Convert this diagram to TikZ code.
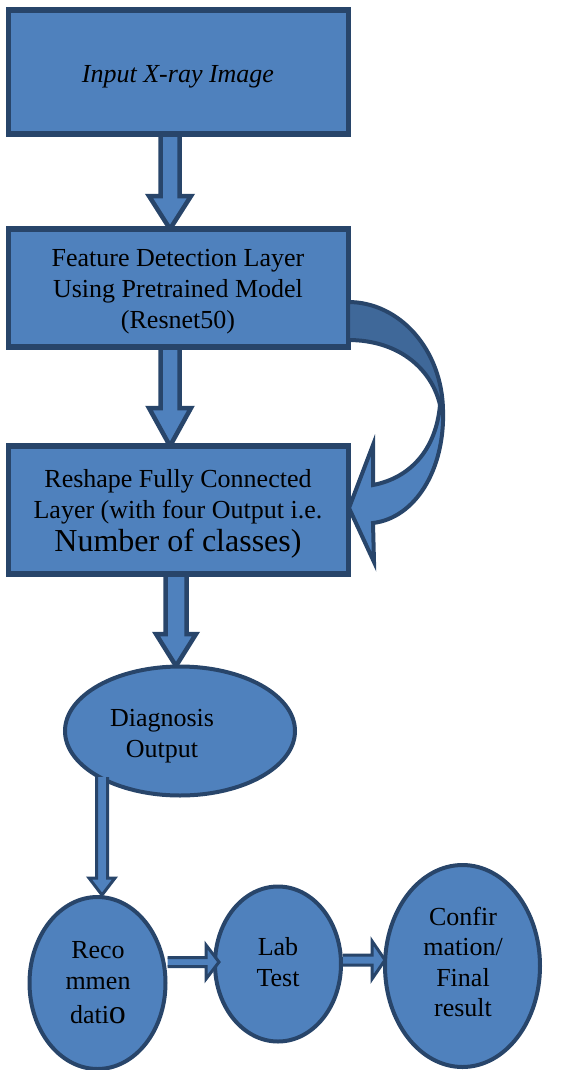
\documentclass[tikz,border=0pt]{standalone}
\usepackage{fontspec}
\setmainfont{Liberation Serif}
\usetikzlibrary{shapes.geometric,calc}
\definecolor{fillb}{HTML}{4F81BD}
\definecolor{edgeb}{HTML}{28456A}
\definecolor{backb}{HTML}{3F6899}
\newcommand{\downblk}[6]{%
  \path[#1] let \p1=(#2), \p2=(#3) in
    (\x1-#4,\y1) -- (\x1-#4,\y2+#6) -- (\x1-#5,\y2+#6) -- (\x1,\y2) --
    (\x1+#5,\y2+#6) -- (\x1+#4,\y2+#6) -- (\x1+#4,\y1);}
\newcommand{\rightblk}[6]{%
  \path[#1] let \p1=(#2), \p2=(#3) in
    (\x1,\y1+#4) -- (\x2-#6,\y1+#4) -- (\x2-#6,\y1+#5) -- (\x2,\y1) --
    (\x2-#6,\y1-#5) -- (\x2-#6,\y1-#4) -- (\x1,\y1-#4);}
\begin{document}
\begin{tikzpicture}[x=1pt,y=-1pt,
  box/.style={draw=edgeb, line width=5.5pt, fill=fillb, minimum width=340pt,
    inner sep=0pt},
  boxtxt/.style={align=center, inner sep=0pt, font=\fontsize{26}{31}\selectfont},
  oval/.style={ellipse, draw=edgeb, line width=4pt, fill=fillb, inner sep=0pt},
  txt/.style={align=center, inner sep=0pt, font=\fontsize{26}{30.5}\selectfont},
  barrow/.style={draw=edgeb, line width=4.5pt, fill=fillb, line join=miter},
  sarrow/.style={draw=edgeb, line width=3pt, fill=fillb, line join=miter},
  curvefront/.style={draw=edgeb, line width=4pt, fill=fillb, line join=miter},
  curveback/.style={draw=edgeb, line width=4pt, fill=backb, line join=round}]
\useasboundingbox (0,0) rectangle (570,1070);

% block arrows between boxes (drawn first so that box borders lie on top)
\coordinate (b1s) at (170,134);
\coordinate (b2t) at (170,229);
\coordinate (b2s) at (170,347);
\coordinate (b3t) at (170,446);
\coordinate (b3s) at (176,574);
\coordinate (dgt) at (176,666);
\downblk{barrow}{b1s}{b2t}{9.5pt}{21pt}{33pt}
\downblk{barrow}{b2s}{b3t}{9.5pt}{21pt}{38pt}
\downblk{barrow}{b3s}{dgt}{10.5pt}{20pt}{32pt}

% boxes
\node[box, minimum height=124pt] (b1) at (178.3,72) {};
\node[box, minimum height=118pt] (b2) at (178.3,288) {};
\node[box, minimum height=128pt] (b3) at (178.3,510) {};
\node[boxtxt] (b1t) at (178,77) {\itshape Input X-ray Image};
\node[boxtxt] (b2tx) at (178,292)
  {Feature Detection Layer\\Using Pretrained Model\\(Resnet50)};
\node[boxtxt] (b3tx) at (178,514)
  {Reshape Fully Connected\\Layer (with four Output i.e.\\[2pt]
   {\fontsize{32}{31}\selectfont Number of classes)}};

% curved arrow from feature layer back into reshape layer
\path[curveback] (348,302) .. controls (400,302) and (442,350) .. (443,410)
  -- (440,405) .. controls (432,370) and (400,340) .. (348,340) -- cycle;
\path[curvefront] (440,405) .. controls (436,450) and (410,478) .. (373,485)
  -- (373,445) -- (349,508) -- (374,562) -- (373,523)
  .. controls (415,518) and (445,470) .. (443,410) -- cycle;

% diagnosis ellipse
\node[oval, minimum width=230pt, minimum height=129pt] (diag) at (180,731) {};
\node[txt] (diagt) at (162,736) {Diagnosis\\Output};

% lower row
\node[oval, minimum width=136pt, minimum height=172pt] (reco) at (97.5,983) {};
\node[oval, minimum width=126pt, minimum height=155pt] (lab) at (278,964) {};
\node[oval, minimum width=155pt, minimum height=202pt] (conf) at (462.5,966) {};

\node[txt] (recot) at (98,983) {Reco\\mmen\\[4pt]dati{\fontsize{34}{30}\selectfont o}};
\node[txt] (labt) at (278,962) {Lab\\Test};
\node[txt] (conft) at (463,962) {Confir\\mation/\\Final\\result};

% small block arrows
\coordinate (dgs) at (102,777);
\downblk{sarrow}{dgs}{reco.north}{5.5pt}{13pt}{17pt}
\rightblk{sarrow}{$(reco.east)+(0,-21)$}{$(lab.west)+(6,0)$}{4.5pt}{17pt}{13pt}
\rightblk{sarrow}{$(lab.east)+(0,-4)$}{$(conf.west)+(2,0)$}{5pt}{19pt}{13pt}
\end{tikzpicture}
\end{document}
